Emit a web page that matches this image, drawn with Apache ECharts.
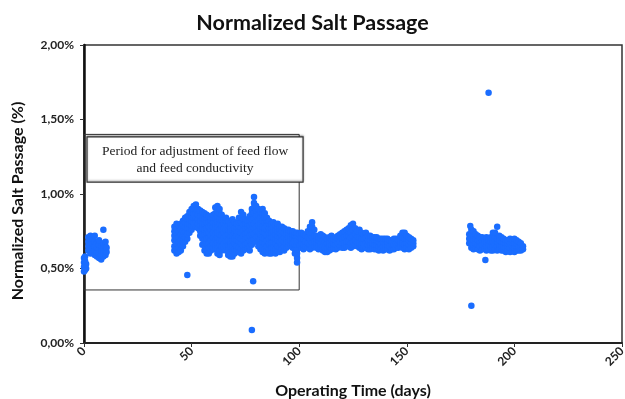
<!DOCTYPE html>
<html><head><meta charset="utf-8">
<script src="https://cdn.jsdelivr.net/npm/echarts@6/dist/echarts.min.js"></script>
<style>html,body{margin:0;padding:0;background:#fff}#c{width:625px;height:399px}</style>
</head><body><div id="c"></div>
<script>
// Each row: [day, value1, value2, ...] in % salt passage
const cluster1 = [
  [0, .48,.51,.54,.57],[0.5, .49,.52,.55,.58],[1, .50,.53]
];
const cluster2 = [
  [2, .62,.65,.68,.71],[3, .60,.63,.66,.70,.72],[4, .61,.64,.67,.70],[5, .59,.62,.65,.68,.72],
  [6, .58,.61,.64,.67],[7, .57,.60,.63,.66,.69],[8, .56,.59,.62,.65],[9, .58,.61,.64,.67,.76],
  [10, .59,.62,.65,.68],[10.5, .61,.64]
];
const cluster3 = [
  [42,.62,.65,.69,.72,.75,.78],[43,.60,.63,.67,.70,.74,.77,.80],[44,.61,.64,.68,.71,.75,.79],
  [45,.62,.66,.69,.73,.76,.80],[46,.65,.68,.72,.75,.79,.82],[47,.68,.71,.75,.78,.81,.84],
  [48,.70,.73,.77,.80,.83,.85],[49,.74,.77,.80,.83,.86,.88],[50,.76,.79,.82,.85,.88,.90],
  [51,.78,.81,.84,.87,.90,.92],[52,.78,.81,.84,.87,.90,.93],[53,.77,.80,.83,.86,.90],
  [54,.72,.75,.79,.82,.85,.89],[55,.66,.70,.73,.77,.80,.84,.88],[56,.62,.66,.69,.73,.76,.80,.83,.87],
  [57,.60,.63,.67,.70,.74,.77,.81,.84,.86],[58,.60,.64,.67,.71,.74,.78,.81,.85],
  [59,.62,.65,.69,.72,.76,.79,.82,.84],[60,.64,.67,.71,.74,.78,.81,.84,.86],
  [61,.63,.66,.70,.73,.77,.80,.84,.87,.91],[62,.60,.64,.67,.71,.74,.78,.81,.85,.88,.92],
  [63,.59,.62,.66,.69,.73,.76,.80,.83,.87,.90],[64,.62,.65,.69,.72,.76,.79,.83,.86],
  [65,.64,.67,.71,.74,.77,.80,.83],[66,.62,.65,.69,.72,.76,.79,.82,.84],
  [67,.59,.62,.66,.69,.73,.76,.79,.82],[68,.58,.61,.65,.68,.72,.75,.78,.80],
  [69,.58,.62,.65,.69,.72,.76,.79,.83],[70,.60,.63,.67,.70,.74,.77,.81],
  [71,.62,.65,.69,.72,.75,.78,.80],[72,.61,.64,.68,.71,.75,.78,.81,.84],
  [73,.60,.63,.67,.70,.74,.77,.81,.84,.88],[74,.62,.65,.69,.72,.76,.79,.83,.86],
  [75,.63,.66,.70,.73,.77,.80,.83],[76,.64,.67,.71,.74,.78,.80,.82],
  [77,.62,.65,.69,.72,.76,.79,.82,.85],[78,.66,.69,.73,.76,.80,.83,.87,.90],
  [79,.70,.73,.77,.80,.84,.87,.91,.94,.98],[80,.68,.71,.75,.78,.82,.85,.89,.92],
  [81,.65,.68,.72,.75,.79,.82,.86,.90],[82,.63,.66,.70,.73,.77,.80,.84,.88],
  [83,.61,.64,.68,.71,.75,.78,.82,.86,.90],[84,.60,.63,.67,.70,.74,.77,.81,.84,.87],
  [85,.62,.65,.69,.72,.76,.79,.82,.84],[86,.60,.63,.67,.70,.74,.77,.80,.82],
  [87,.60,.64,.67,.71,.74,.77,.80],[88,.61,.64,.68,.71,.75,.78,.81],
  [89,.60,.63,.67,.70,.73,.76,.79],[90,.62,.65,.69,.72,.75,.78,.80],
  [91,.61,.64,.68,.71,.74,.76,.78],[92,.63,.66,.69,.72,.75,.78],
  [93,.62,.65,.68,.71,.74,.77],[94,.64,.67,.70,.73,.76],[95,.65,.68,.71,.74,.76],
  [96,.66,.69,.72,.75],[97,.64,.67,.70,.73,.75],[98,.60,.63,.66,.69,.72,.74],
  [99,.54,.57,.60,.63,.66,.69,.72,.74],[100,.66,.69,.71,.73]
];
const cluster4 = [
  [101,.64,.67,.70,.74],[102,.63,.66,.70,.73],[103,.65,.68,.72],[104,.64,.67,.71,.75],
  [105,.63,.66,.70,.74,.78],[106,.64,.67,.71,.74,.78,.81],[107,.65,.68,.72,.76],
  [108,.64,.67,.70,.72],[109,.63,.66,.69,.71],[110,.64,.67,.70,.73],[111,.62,.65,.69,.72],
  [112,.61,.64,.68,.71],[113,.61,.64,.67,.70],[114,.62,.65,.68,.71],[115,.63,.66,.69,.72],
  [116,.64,.67,.70],[117,.63,.66,.69,.71],[118,.64,.67,.70,.72],[119,.65,.68,.71,.73],
  [120,.64,.67,.70,.74],[121,.64,.67,.71,.75],[122,.65,.68,.72,.76],[123,.65,.68,.72,.75,.77],
  [124,.64,.67,.71,.74,.79],[125,.65,.68,.72,.76,.80],[126,.66,.69,.73,.77],
  [127,.65,.68,.72,.75],[128,.64,.67,.71,.76],[129,.63,.66,.70,.74],[130,.64,.67,.70,.73],
  [131,.64,.67,.71,.74],[132,.63,.66,.69,.72],[133,.63,.66,.69,.72],[134,.64,.67,.71],
  [135,.63,.66,.69,.71],[136,.63,.66,.69,.71],[137,.62,.65,.68,.70],[138,.63,.66,.70],
  [139,.62,.65,.68,.70],[140,.63,.66,.70],[141,.63,.66,.68,.70],[142,.62,.65,.69],
  [143,.63,.66,.69],[144,.63,.66,.70],[145,.64,.67,.70],[146,.64,.67,.69],[147,.65,.68,.72],
  [148,.64,.67,.71,.74],[149,.63,.66,.70,.74],[150,.64,.67,.70,.72],[151,.63,.66,.69,.71],
  [152,.64,.67,.70],[153,.65,.67,.69]
];
const cluster5 = [
  [179,.67,.70,.73],[180,.64,.67,.70,.73,.76],[181,.63,.66,.69,.72,.75],[182,.64,.67,.70,.73],
  [183,.63,.66,.69,.72],[184,.62,.65,.68,.71],[185,.63,.66,.69,.71],[186,.64,.67,.70],
  [187,.62,.65,.68,.71],[188,.63,.66,.69,.70],[189,.62,.65,.68,.71],[190,.62,.65,.68,.71,.74],
  [191,.63,.66,.69,.71,.74],[192,.62,.65,.68,.70,.78],[193,.63,.66,.69,.72],[194,.62,.65,.68,.71],
  [195,.62,.65,.68,.70],[196,.61,.64,.67,.69],[197,.62,.65,.67,.69],[198,.61,.64,.67,.70],
  [199,.62,.65,.67,.69],[200,.61,.64,.67,.70],[201,.62,.65,.67,.69],[202,.62,.65,.68],
  [203,.62,.65,.67],[204,.63,.65]
];
const outliers = [[48,0.456],[78.6,0.415],[78,0.087],[180,0.25],[186.5,0.557],[188,1.68],[179.5,0.785]];
const xTicks = [0, 50, 100, 150, 200, 250];
const yTicks = [0, 0.5, 1.0, 1.5, 2.0];
const periodBox = [[0, 0.356], [100, 1.40]];
const noteBox = [[1.4, 1.08], [101.8, 1.383]];
const noteText = 'Period for adjustment of feed flow\nand feed conductivity';

const points = [];
[cluster1, cluster2, cluster3, cluster4, cluster5].forEach(cl => cl.forEach(row => {
  for (let i = 1; i < row.length; i++) points.push([row[0], row[i]]);
}));
outliers.forEach(p => points.push(p));

const blue = '#1a6dff';
const chart = echarts.init(document.getElementById('c'), null, {renderer: 'canvas'});
chart.setOption({
  animation: false,
  title: {
    text: 'Normalized Salt Passage', left: 'center', top: 7,
    textStyle: {fontFamily: 'Lato', fontWeight: 'bold', fontSize: 21.5, color: '#111'}
  },
  grid: {left: 84, right: 3, top: 45, bottom: 56, outerBoundsMode: 'none', containLabel: false,
    show: true, borderColor: '#333', borderWidth: 1.5, backgroundColor: 'transparent'},
  xAxis: {
    type: 'value', min: xTicks[0], max: xTicks[xTicks.length - 1], interval: 50,
    name: 'Operating Time (days)', nameLocation: 'middle', nameGap: 40,
    nameTextStyle: {fontFamily: 'Lato', fontWeight: 'bold', fontSize: 16, color: '#111'},
    axisLine: {show: true, lineStyle: {color: '#222', width: 2}},
    axisTick: {show: true, inside: false, length: 4, lineStyle: {color: '#333'}},
    splitLine: {show: false},
    axisLabel: {rotate: 45, margin: 6, fontFamily: 'Lato', fontWeight: 'bold', fontSize: 12, color: '#222'}
  },
  yAxis: {
    type: 'value', min: yTicks[0], max: yTicks[yTicks.length - 1], interval: 0.5,
    name: 'Normalized Salt Passage (%)', nameLocation: 'middle', nameGap: 58,
    nameTextStyle: {fontFamily: 'Lato', fontWeight: 'bold', fontSize: 16, color: '#111', padding: [0, 14, 0, 0]},
    axisLine: {show: true, lineStyle: {color: '#111', width: 2.5}},
    axisTick: {show: true, inside: false, length: 4, lineStyle: {color: '#333'}},
    splitLine: {show: false},
    axisLabel: {margin: 10, fontFamily: 'Lato', fontWeight: 'bold', fontSize: 12, color: '#222',
      formatter: v => v.toFixed(2).replace('.', ',') + '%'}
  },
  series: [{
    type: 'scatter', data: points, symbolSize: 6.5,
    itemStyle: {color: blue, opacity: 1},
    markArea: {
      silent: true,
      data: [
        [{coord: periodBox[0], itemStyle: {color: 'rgba(0,0,0,0)', borderColor: '#333', borderWidth: 1}},
         {coord: periodBox[1]}],
        [{coord: noteBox[0], itemStyle: {color: '#fff', borderColor: '#333', borderWidth: 1.2,
           shadowColor: 'rgba(0,0,0,0.35)', shadowBlur: 2, shadowOffsetX: 0, shadowOffsetY: -1},
          label: {show: true, position: 'inside', formatter: noteText, color: '#222',
            fontFamily: 'Liberation Serif', fontSize: 13.5, lineHeight: 17, align: 'center'}},
         {coord: noteBox[1]}]
      ]
    }
  }]
});
</script></body></html>
